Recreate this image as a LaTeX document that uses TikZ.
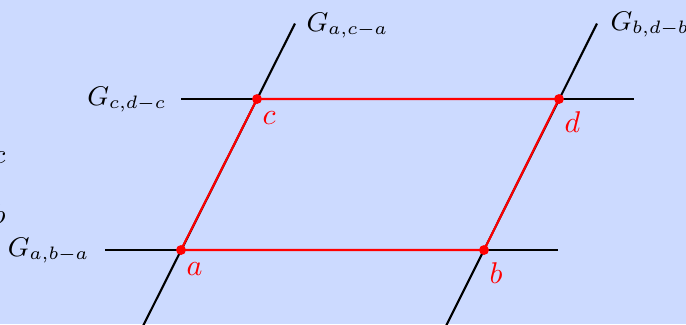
\documentclass[tikz,border=0pt]{standalone}
\usepackage{amsmath}
\usepackage{xcolor}
\usepackage{tikz}
\usetikzlibrary{positioning,calc}
\definecolor{slidebg}{RGB}{204,218,255}
\definecolor{ptred}{RGB}{255,0,0}

\begin{document}
\begin{tikzpicture}[
  x=0.3333pt, y=-0.3333pt,
  node distance=4pt and 1.7pt,
  every node/.style={font=\fontsize{9.1}{11}\selectfont},
  gline/.style={line width=0.7pt, black},
  pline/.style={line width=0.7pt, ptred},
  dot/.style={circle, fill=ptred, inner sep=0pt, minimum size=3.3pt},
  glabel/.style={inner sep=0pt},
  ptlabel/.style={inner sep=0pt, text=ptred, font=\normalsize}
]
  \fill[slidebg] (0,0) rectangle (686,324);
  \useasboundingbox (0,0) rectangle (686,324);

  % corner points
  \coordinate (a) at (181,250);
  \coordinate (b) at (484,250);
  \coordinate (c) at (257,99);
  \coordinate (d) at (559,99);

  % line ends
  \coordinate (ab-w) at (105,250);
  \coordinate (ab-e) at (558,250);
  \coordinate (cd-w) at (181,99);
  \coordinate (cd-e) at (634,99);
  \coordinate (ac-s) at (143,326);
  \coordinate (ac-n) at (295,23.5);
  \coordinate (bd-s) at (446,326);
  \coordinate (bd-n) at (597,23.5);

  \draw[gline] (ab-w) -- (ab-e);
  \draw[gline] (cd-w) -- (cd-e);
  \draw[gline] (ac-s) -- (ac-n);
  \draw[gline] (bd-s) -- (bd-n);

  \draw[pline] (a) -- (b) -- (d) -- (c) -- cycle;

  \node[dot] (pa) at (a) {};
  \node[dot] (pb) at (b) {};
  \node[dot] (pc) at (c) {};
  \node[dot] (pd) at (d) {};

  \node[ptlabel, below right=of a] (la) {$a$};
  \node[ptlabel, below right=of b] (lb) {$b$};
  \node[ptlabel, below right=of c] (lc) {$c$};
  \node[ptlabel, below right=of d] (ld) {$d$};

  % group labels
  \node[glabel, anchor=base east] (gab) at (90,256) {$G_{a,b-a}$};
  \node[glabel, anchor=base east] (gcd) at (167,105) {$G_{c,d-c}$};
  \node[glabel, anchor=base west] (gac) at (306,31) {$G_{a,c-a}$};
  \node[glabel, anchor=base west] (gbd) at (610,30) {$G_{b,d-b}$};

  % cut-off letters at the left edge
  \node[glabel, anchor=base east] (lcut1) at (6,163) {$c$};
  \node[glabel, anchor=base east] (lcut2) at (6,223) {$b$};
\end{tikzpicture}
\end{document}
